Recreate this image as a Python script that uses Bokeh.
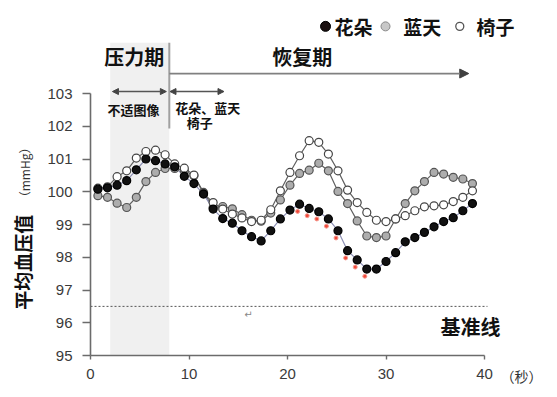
import math
from bokeh.plotting import figure
from bokeh.models import Range1d, Label, Arrow, NormalHead, FixedTicker, ColumnDataSource
from bokeh.embed import file_html
from bokeh.resources import INLINE

# ---- data ----
times = [0.75, 1.725, 2.70, 3.675, 4.65, 5.625, 6.60, 7.575, 8.55, 9.525,
         10.50, 11.475, 12.45, 13.425, 14.40, 15.375, 16.35, 17.325, 18.30, 19.275,
         20.25, 21.225, 22.20, 23.175, 24.15, 25.125, 26.10, 27.075, 28.05, 29.025,
         30.00, 30.975, 31.95, 32.925, 33.90, 34.875, 35.85, 36.825, 37.80, 38.775]

flowers = [100.08, 100.12, 100.20, 100.34, 100.67, 101.00, 100.95, 100.85, 100.76, 100.47,
           100.25, 99.93, 99.47, 99.18, 99.04, 98.81, 98.63, 98.50, 98.81, 99.17,
           99.44, 99.62, 99.49, 99.39, 99.17, 98.81, 98.20, 97.92, 97.64, 97.64,
           97.87, 98.14, 98.47, 98.60, 98.76, 98.93, 99.09, 99.21, 99.42, 99.64]

sky = [99.88, 99.83, 99.65, 99.52, 99.83, 100.31, 100.59, 100.71, 100.71, 100.64,
       100.49, 99.98, 99.52, 99.55, 99.48, 99.30, 99.13, 99.10, 99.35, 99.75,
       100.20, 100.56, 100.66, 100.87, 100.64, 100.01, 99.64, 99.11, 98.65, 98.60,
       98.65, 99.17, 99.64, 100.03, 100.31, 100.59, 100.54, 100.44, 100.39, 100.25]

chair = [100.11, 100.15, 100.46, 100.64, 101.03, 101.23, 101.27, 101.13, 100.85, 100.72,
         100.51, 99.95, 99.67, 99.47, 99.32, 99.20, 99.09, 99.13, 99.45, 100.03,
         100.59, 101.10, 101.56, 101.51, 101.15, 100.64, 100.05, 99.67, 99.37, 99.13,
         99.09, 99.17, 99.27, 99.42, 99.54, 99.57, 99.60, 99.70, 99.83, 100.03]

significant_idx = [21, 22, 23, 24, 25, 26, 27, 28]

baseline_value = 96.5
stress_start, stress_end = 2, 8
x_ticks = [0, 10, 20, 30, 40]
y_ticks = [95, 96, 97, 98, 99, 100, 101, 102, 103]

series_names = ["花朵", "蓝天", "椅子"]

# ---- figure ----
W, H = 557, 397
p = figure(width=W, height=H, output_backend="svg", toolbar_location=None,
           x_range=Range1d(-9.137, 47.41), y_range=Range1d(93.718, 105.84))
p.min_border = 0
p.outline_line_color = None
p.xgrid.visible = False
p.ygrid.visible = False
p.background_fill_color = "white"
p.border_fill_color = "white"

CJK = "Noto Sans CJK SC"

# axes drawn at the data origin of the chart
for ax in (p.xaxis[0], p.yaxis[0]):
    ax.axis_line_color = "#6b6b6b"
    ax.axis_line_width = 1.6
    ax.major_tick_line_color = "#6b6b6b"
    ax.major_tick_line_width = 1.4
    ax.minor_tick_line_color = None
    ax.major_tick_in = 0
    ax.major_label_text_font = "Liberation Sans"
    ax.major_label_text_font_size = "15px"
    ax.major_label_text_color = "#3a3a3a"
p.yaxis.ticker = FixedTicker(ticks=y_ticks)
p.yaxis.bounds = (95, 103)
p.yaxis.fixed_location = 0
p.yaxis.major_tick_out = 8
p.yaxis.major_label_standoff = 10
p.xaxis.ticker = FixedTicker(ticks=x_ticks)
p.xaxis.bounds = (0, 40)
p.xaxis.fixed_location = 95
p.xaxis.major_tick_out = 4
p.xaxis.major_label_standoff = 9

# stress-period shading
p.quad(left=[stress_start], right=[stress_end], bottom=[95], top=[104.55],
       fill_color="#f0f0f0", line_color=None, level="underlay")

# baseline
p.line(x=[0, 40.3], y=[baseline_value, baseline_value], line_color="#555555",
       line_width=1, line_dash="2 2")

# phase divider
p.segment(x0=[stress_end], y0=[101.93], x1=[stress_end], y1=[104.55],
          line_color="#a0a0a0", line_width=2)

# top arrow
p.add_layout(Arrow(x_start=stress_end, y_start=103.61, x_end=38.4, y_end=103.61,
                   line_color="#808080", line_width=1.8,
                   end=NormalHead(size=9, fill_color="#404040", line_color="#404040")))
# small double arrows
for xs, xe in [(2.23, 7.7), (8.07, 13.55)]:
    p.add_layout(Arrow(x_start=xs, y_start=103.06, x_end=xe, y_end=103.06,
                       line_color="#555555", line_width=1.4,
                       start=NormalHead(size=6, fill_color="#444444", line_color="#444444"),
                       end=NormalHead(size=6, fill_color="#444444", line_color="#444444")))

# series
src = ColumnDataSource(dict(t=times, flowers=flowers, sky=sky, chair=chair))
p.line("t", "sky", source=src, line_color="#606060", line_width=1.2)
p.line("t", "chair", source=src, line_color="#606060", line_width=1.2)
p.line("t", "flowers", source=src, line_color="#8d90b4", line_width=1.2)
p.scatter("t", "sky", source=src, size=8, fill_color="#adadad", line_color="#555555", line_width=1.2)
p.scatter("t", "chair", source=src, size=8, fill_color="white", line_color="#454545", line_width=1.2)
p.scatter("t", "flowers", source=src, size=8, fill_color="#111111", line_color="#000000", line_width=1.2)

# significance markers
sig_x = [times[i] - 0.2 for i in significant_idx]
sig_y = [flowers[i] - 0.22 for i in significant_idx]
p.scatter(sig_x, sig_y, marker="circle", size=4, fill_color="#f04a3a", line_color="#f59a90", line_width=1)

# legend
leg_y = 105.05
p.scatter([23.86], [leg_y], size=10, fill_color="#1a1010", line_color="#000000")
p.scatter([29.95], [leg_y], size=9, fill_color="#c8c8c8", line_color="#8a8a8a")
p.scatter([37.49], [leg_y], size=8, fill_color="white", line_color="#555555", line_width=1.3)
for tx, name in zip([26.7, 33.68, 41.12], series_names):
    p.add_layout(Label(x=tx, y=leg_y, text=name, text_align="center", text_baseline="middle",
                       text_font=CJK, text_font_size="19px", text_font_style="bold",
                       text_color="#111111"))

# phase labels
p.add_layout(Label(x=4.44, y=104.14, text="压力期", text_align="center", text_baseline="middle",
                   text_font=CJK, text_font_size="20px", text_font_style="bold", text_color="#111111"))
p.add_layout(Label(x=21.5, y=104.14, text="恢复期", text_align="center", text_baseline="middle",
                   text_font=CJK, text_font_size="20px", text_font_style="bold", text_color="#111111"))
p.add_layout(Label(x=4.37, y=102.51, text="不适图像", text_align="center", text_baseline="middle",
                   text_font=CJK, text_font_size="13px", text_font_style="bold", text_color="#111111"))
p.add_layout(Label(x=11.9, y=102.58, text="花朵、蓝天", text_align="center", text_baseline="middle",
                   text_font=CJK, text_font_size="13px", text_font_style="bold", text_color="#111111"))
p.add_layout(Label(x=11.1, y=102.12, text="椅子", text_align="center", text_baseline="middle",
                   text_font=CJK, text_font_size="13px", text_font_style="bold", text_color="#111111"))

# baseline label
p.add_layout(Label(x=38.58, y=95.89, text="基准线", text_align="center", text_baseline="middle",
                   text_font=CJK, text_font_size="20px", text_font_style="bold", text_color="#111111"))
p.add_layout(Label(x=16.04, y=96.25, text="↵", text_align="center", text_baseline="middle",
                   text_font="DejaVu Sans", text_font_size="10px", text_color="#888888"))

# axis titles
p.add_layout(Label(x=-6.9, y=97.85, text="平均血压值", angle=math.pi / 2, text_align="center",
                   text_baseline="middle", text_font=CJK, text_font_size="19px",
                   text_font_style="bold", text_color="#111111"))
p.add_layout(Label(x=-6.7, y=100.59, text="（mmHg）", angle=math.pi / 2, text_align="center",
                   text_baseline="middle", text_font=CJK, text_font_size="12px",
                   text_color="#333333"))
p.add_layout(Label(x=43.76, y=94.36, text="（秒）", text_align="center", text_baseline="middle",
                   text_font=CJK, text_font_size="14px", text_color="#333333"))

open("out.html", "w").write(file_html(p, INLINE))
